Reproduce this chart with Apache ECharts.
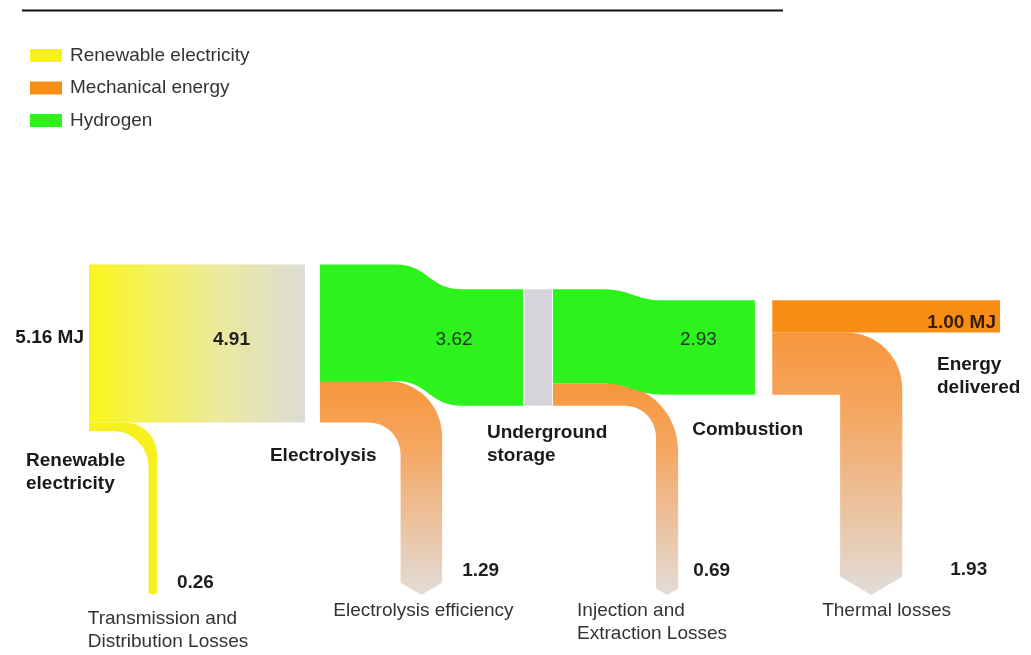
<!DOCTYPE html>
<html><head><meta charset="utf-8">
<script src="https://cdn.jsdelivr.net/npm/echarts@6/dist/echarts.min.js"></script>
<style>html,body{margin:0;padding:0;background:#fff}#c{width:1031px;height:655px}</style>
</head><body><div id="c"></div><script>
// ---------- data ----------
const nodeNames = ['Renewable\nelectricity', 'Electrolysis', 'Underground\nstorage', 'Combustion', 'Energy\ndelivered'];
const sourceValue = 5.16;
const stageInputs = [5.16, 4.91, 3.62, 2.93];
const stageOutputs = [4.91, 3.62, 2.93, 1.00];
const stageLosses = [0.26, 1.29, 0.69, 1.93];
const lossNames = ['Transmission and\nDistribution Losses', 'Electrolysis efficiency', 'Injection and\nExtraction Losses', 'Thermal losses'];
const legendNames = ['Renewable electricity', 'Mechanical energy', 'Hydrogen'];

// ---------- layout & style (not data) ----------
const FONT = '"Liberation Sans", Arial, Helvetica, sans-serif';
const colors = {yellow: '#f6f01e', orange: '#f78d14', green: '#2ef21c', storage: '#d6d4d9'};
const pipeTipValue = -7.69;
const layout = [
  {x0: 0.0,   x1: 0.948, recenter: false, pipe: 0.276, R: 32, r: 36, valFrac: 0.66, lvDx: 20, lvDy: -12, lnDx: -65, lnDy: 24},
  {x0: 1.014, x1: 1.906, recenter: true, c0: 0.37, c1: 0.70, pipe: 0.397, R: 55, r: 32, valFrac: 0.66, lvDx: 20, lvDy: -24, lnDx: -88, lnDy: 16},
  {x0: 2.037, x1: 2.924, recenter: true, c0: 0.24, c1: 0.55, pipe: 0.51, R: 67, r: 31, valFrac: 0.72, lvDx: 15, lvDy: -24, lnDx: -90, lnDy: 16},
  {x0: 3.0,   x1: 4.0,   recenter: false, pipe: 0.298, R: 56, r: 0, lvDx: 48, lvDy: -25, lnDx: -49, lnDy: 16}
];
const storageSpan = [1.914, 2.033];
const nodeLabelPos = [
  {stage: 0, edge: 'x0', dx: -63, dy: 113.5},
  {stage: 1, edge: 'x0', dx: -50, dy: 108.5},
  {stage: 2, edge: 'x0', dx: -66, dy: 85.5},
  {stage: 3, edge: 'x0', dx: -80, dy: 82.5},
  {stage: 3, edge: 'x1', dx: -63, dy: 17.5}
];

// tops of bands (in MJ, derived from values)
const tops = [];
(function () {
  let tin = stageInputs[0] / 2;
  for (let i = 0; i < stageInputs.length; i++) {
    const tout = layout[i].recenter ? stageOutputs[i] / 2 : tin;
    tops.push({tin, tout});
    tin = tout;
  }
})();

const lossGrad = {type: 'linear', x: 0, y: 0, x2: 0, y2: 1, colorStops: [
  {offset: 0, color: '#f7963c'}, {offset: 0.3, color: '#f5a660'}, {offset: 1, color: '#e2dcd8'}]};
const mainFill = [
  {type: 'linear', x: 0, y: 0, x2: 1, y2: 0, colorStops: [
    {offset: 0, color: '#fbf51c'}, {offset: 0.2, color: '#f6f24a'}, {offset: 0.6, color: '#ecea9e'}, {offset: 1, color: '#dcdcd4'}]},
  colors.green, colors.green, colors.orange
];
const lossFill = [colors.yellow, lossGrad, lossGrad, lossGrad];

function txt(x, y, text, opt) {
  const lh = opt.lineHeight || 23;
  return {
    type: 'text', x: x, y: y - lh / 2, silent: true,
    style: {
      text: text, fill: opt.color || '#1a1a1a', fontSize: opt.size || 19,
      fontWeight: opt.bold ? 'bold' : 'normal', fontFamily: FONT, lineHeight: lh,
      align: opt.align || 'left', textAlign: opt.align || 'left',
      verticalAlign: 'top', textVerticalAlign: 'top'
    }
  };
}

const K = 0.5523;
function renderItem(params, api) {
  const i = api.value(0);
  const vIn = api.value(1), vOut = api.value(2), vLoss = api.value(3);
  const L = layout[i];
  const X0 = api.coord([L.x0, 0])[0], X1 = api.coord([L.x1, 0])[0];
  const W = X1 - X0;
  const yc = api.coord([0, 0])[1];
  const yTi = api.coord([0, tops[i].tin])[1], yBi = api.coord([0, tops[i].tin - vOut])[1];
  const yTo = api.coord([0, tops[i].tout])[1], yBo = api.coord([0, tops[i].tout - vOut])[1];
  const children = [];
  let d;
  if (L.recenter) {
    const xa = X0 + L.c0 * W, xb = X0 + L.c1 * W, xm = (xa + xb) / 2;
    d = `M${X0},${yTi}L${xa},${yTi}C${xm},${yTi} ${xm},${yTo} ${xb},${yTo}L${X1},${yTo}L${X1},${yBo}L${xb},${yBo}C${xm},${yBo} ${xm},${yBi} ${xa},${yBi}L${X0},${yBi}Z`;
  } else {
    d = `M${X0},${yTi}L${X1},${yTo}L${X1},${yBo}L${X0},${yBi}Z`;
  }
  // loss band turning down
  const w = api.size([0, vLoss])[1];
  const yLt = yBi, yLb = yLt + w;
  const PL = X0 + L.pipe * W, PR = PL + w;
  const yTip = api.coord([0, pipeTipValue])[1], yEnd = yTip - w * 0.3;
  const R = L.R, r = L.r;
  const dl = `M${X0},${yLt}L${PR - R},${yLt}C${PR - R + R * K},${yLt} ${PR},${yLt + R - R * K} ${PR},${yLt + R}` +
    `L${PR},${yEnd}L${PL + w / 2},${yTip}L${PL},${yEnd}L${PL},${yLb + r}` +
    `C${PL},${yLb + r - r * K} ${PL - r + r * K},${yLb} ${PL - r},${yLb}L${X0},${yLb}Z`;
  children.push({type: 'path', shape: {pathData: dl}, style: {fill: lossFill[i]}});
  children.push({type: 'path', shape: {pathData: d}, style: {fill: mainFill[i]}});

  if (i === 2) {
    const sx0 = api.coord([storageSpan[0], 0])[0], sx1 = api.coord([storageSpan[1], 0])[0];
    children.push({type: 'rect', shape: {x: sx0, y: yTi, width: sx1 - sx0, height: api.size([0, vIn])[1]}, style: {fill: colors.storage}});
  }
  // value labels
  if (i === 0) {
    children.push(txt(X0 - 5, (yTi + yLb) / 2 - 9.5, sourceValue.toFixed(2) + ' MJ', {bold: true, align: 'right'}));
  }
  if (i < 3) {
    children.push(txt(X0 + L.valFrac * W, yc - 8, vOut.toFixed(2), {bold: i === 0, align: 'center', color: i === 0 ? '#222' : '#233823'}));
  } else {
    children.push(txt(X1 - 4, yBo - 9.5, vOut.toFixed(2) + ' MJ', {bold: true, align: 'right', color: '#3a1c06'}));
  }
  children.push(txt(PR + L.lvDx, yTip + L.lvDy, vLoss.toFixed(2), {bold: true, color: '#1e1e1e'}));
  children.push(txt(PL + w / 2 + L.lnDx, yTip + L.lnDy, lossNames[i], {color: '#333'}));
  // node labels
  nodeLabelPos.forEach(function (p, n) {
    if (p.stage !== i) return;
    const ex = p.edge === 'x0' ? X0 : X1;
    children.push(txt(ex + p.dx, yc + p.dy, nodeNames[n], {bold: true, color: '#1a1a1a'}));
  });
  return {type: 'group', children: children};
}

const chart = echarts.init(document.getElementById('c'), null, {renderer: 'canvas'});
chart.setOption({
  animation: false,
  backgroundColor: '#fff',
  grid: {left: 89, top: 89.9, width: 911, height: 515.2},
  xAxis: {type: 'value', min: 0, max: 4, show: false},
  yAxis: {type: 'value', min: -8, max: 8, show: false},
  legend: {
    orient: 'vertical', left: 25, top: 41, itemWidth: 32, itemHeight: 13, itemGap: 13.5,
    icon: 'rect', selectedMode: false, data: legendNames,
    textStyle: {fontSize: 19, color: '#333', fontFamily: FONT, padding: [0, 0, 0, 3]}
  },
  graphic: [{type: 'line', shape: {x1: 22, y1: 10.5, x2: 783, y2: 10.5}, style: {stroke: '#111', lineWidth: 2}}],
  series: [
    {type: 'custom', name: 'flows', renderItem: renderItem, clip: false, silent: true,
      encode: {x: 0, y: 1},
      data: stageInputs.map(function (v, i) { return [i, v, stageOutputs[i], stageLosses[i]]; })},
    {type: 'bar', name: legendNames[0], data: [], itemStyle: {color: colors.yellow}},
    {type: 'bar', name: legendNames[1], data: [], itemStyle: {color: colors.orange}},
    {type: 'bar', name: legendNames[2], data: [], itemStyle: {color: colors.green}}
  ]
});
</script></body></html>
